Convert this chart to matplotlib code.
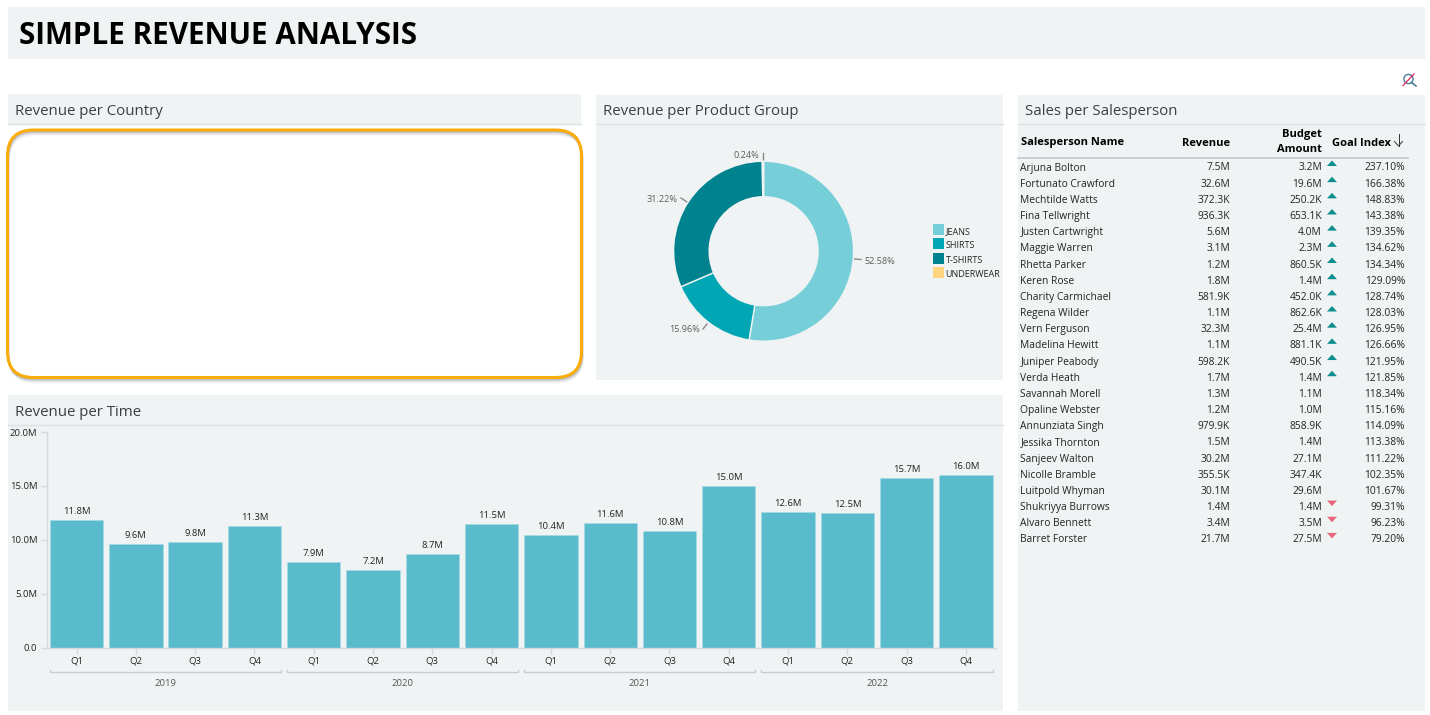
import matplotlib
matplotlib.use("Agg")
import matplotlib.pyplot as plt
import matplotlib.patches as mp

plt.rcParams['font.family'] = ['Open Sans', 'DejaVu Sans']

W, H = 1430, 715

# data
quarters = ['Q1', 'Q2', 'Q3', 'Q4'] * 4
years = ['2019', '2020', '2021', '2022']
revenue_time = [11.8, 9.6, 9.8, 11.3, 7.9, 7.2, 8.7, 11.5, 10.4, 11.6, 10.8, 15.0, 12.6, 12.5, 15.7, 16.0]
yticks = [0, 5, 10, 15, 20]
ylabels = ['0.0', '5.0M', '10.0M', '15.0M', '20.0M']

groups = ['JEANS', 'SHIRTS', 'T-SHIRTS', 'UNDERWEAR']
group_share = [52.58, 15.96, 31.22, 0.24]
group_colors = ['#76CFD8', '#00A6B4', '#00838F', '#FFD67F']

names = ['Arjuna Bolton', 'Fortunato Crawford', 'Mechtilde Watts', 'Fina Tellwright', 'Justen Cartwright',
         'Maggie Warren', 'Rhetta Parker', 'Keren Rose', 'Charity Carmichael', 'Regena Wilder', 'Vern Ferguson',
         'Madelina Hewitt', 'Juniper Peabody', 'Verda Heath', 'Savannah Morell', 'Opaline Webster',
         'Annunziata Singh', 'Jessika Thornton', 'Sanjeev Walton', 'Nicolle Bramble', 'Luitpold Whyman',
         'Shukriyya Burrows', 'Alvaro Bennett', 'Barret Forster']
revenue = ['7.5M', '32.6M', '372.3K', '936.3K', '5.6M', '3.1M', '1.2M', '1.8M', '581.9K', '1.1M', '32.3M', '1.1M',
           '598.2K', '1.7M', '1.3M', '1.2M', '979.9K', '1.5M', '30.2M', '355.5K', '30.1M', '1.4M', '3.4M', '21.7M']
budget = ['3.2M', '19.6M', '250.2K', '653.1K', '4.0M', '2.3M', '860.5K', '1.4M', '452.0K', '862.6K', '25.4M', '881.1K',
          '490.5K', '1.4M', '1.1M', '1.0M', '858.9K', '1.4M', '27.1M', '347.4K', '29.6M', '1.4M', '3.5M', '27.5M']
goal_index = [237.10, 166.38, 148.83, 143.38, 139.35, 134.62, 134.34, 129.09, 128.74, 128.03, 126.95, 126.66,
              121.95, 121.85, 118.34, 115.16, 114.09, 113.38, 111.22, 102.35, 101.67, 99.31, 96.23, 79.20]

PANEL = '#F0F3F4'
RULE = '#DDE1E3'
TITLE = '#3A3F42'
TXT = '#252423'


def px_axes(x0, y0, x1, y1):
    return fig.add_axes([x0 / W, 1 - y1 / H, (x1 - x0) / W, (y1 - y0) / H])


fig = plt.figure(figsize=(W / 100, H / 100), dpi=100, facecolor='white')

# background layer, in pixels
bg = fig.add_axes([0, 0, 1, 1])
bg.set_xlim(0, W)
bg.set_ylim(H, 0)
bg.axis('off')


def panel(x0, y0, x1, y1):
    bg.add_patch(mp.Rectangle((x0, y0), x1 - x0, y1 - y0, fc=PANEL, ec='none'))


panel(8, 7, 1425, 59)
panel(8, 94, 581, 124)
panel(596, 95, 1003, 380)
panel(8, 395, 1003, 711)
panel(1018, 95, 1425, 711)

bg.text(19, 36.5, 'SIMPLE REVENUE ANALYSIS', fontsize=21.3, fontweight='bold', color='black', va='center')

for x0, x1, y, t in [(8, 581, 124, 'Revenue per Country'), (596, 1003, 124, 'Revenue per Product Group'),
                     (8, 1003, 424.5, 'Revenue per Time'), (1018, 1425, 124, 'Sales per Salesperson')]:
    bg.plot([x0, x1], [y, y], color=RULE, lw=1)
    bg.text(x0 + 7, y - 12.5, t, fontsize=10.85, color=TITLE, va='center')

# empty map frame, soft shadow falls inside the top edge and outside the bottom one
box = dict(boxstyle='round,pad=0,rounding_size=26')
bg.add_patch(mp.FancyBboxPatch((7.5, 130), 574, 247.5, fc='white', ec='none', **box))
for off, alpha in [(5, 0.04), (4, 0.07), (3, 0.12), (2, 0.2), (1, 0.3)]:
    bg.add_patch(mp.FancyBboxPatch((7.5 + off * 0.3, 130 + off), 574, 247.5, fc='none', ec='#555555',
                                   lw=1.5, alpha=alpha, **box))
bg.add_patch(mp.FancyBboxPatch((7.5, 130), 574, 247.5, fc='none', ec='#F9AC0A', lw=2.2, **box))

# filter icon
bg.add_patch(mp.Circle((1408.5, 79), 4.6, fc='none', ec='#4A7F9A', lw=1))
bg.plot([1411.5, 1416], [82.5, 86], color='#4A7F9A', lw=1.2)
bg.plot([1403, 1414], [85.5, 74], color='#E0245E', lw=0.9)

# bars
ax = px_axes(46.9, 432, 995.6, 647.5)
ax.patch.set_alpha(0)
xs = list(range(len(revenue_time)))
ax.bar(xs, revenue_time, width=0.9, color='#5ABBCD', edgecolor='#A5DCE4', linewidth=0.4)
for x, v in zip(xs, revenue_time):
    ax.text(x, v + 0.37, '{:.1f}M'.format(v), ha='center', va='bottom', fontsize=6.8, color=TXT)
ax.set_xlim(-0.5, 15.5)
ax.set_ylim(0, 20)
ax.set_xticks(xs, quarters)
ax.set_yticks(yticks, ylabels)
ax.tick_params(axis='both', length=4, width=1, color='#D5D9DB', labelsize=6.8, labelcolor=TXT, pad=3)
ax.tick_params(axis='x', pad=2.2)
for s in ['top', 'right']:
    ax.spines[s].set_visible(False)
for s in ['left', 'bottom']:
    ax.spines[s].set_color('#D5D9DB')
    ax.spines[s].set_linewidth(1)

# year brackets under the quarters
tr = ax.get_xaxis_transform()
for i, year in enumerate(years):
    a, b = i * 4 - 0.45, i * 4 + 3.45
    ax.plot([a, a, b, b], [-0.103, -0.113, -0.113, -0.103], transform=tr, color='#C8CDCF', lw=1, clip_on=False)
    ax.text(i * 4 + 1.5, -0.167, year, transform=tr, ha='center', va='center', fontsize=6.8, color='#555555')

# donut
pie = px_axes(763.6 - 90, 251.2 - 90, 763.6 + 90, 251.2 + 90)
pie.pie(group_share, colors=group_colors, startangle=90, counterclock=False, radius=1,
        wedgeprops=dict(width=0.395, edgecolor=PANEL, linewidth=1))
pie.set_xlim(-1, 1)
pie.set_ylim(-1, 1)

for t, xt, yt, ha, line in [('52.58%', 864, 261, 'left', [(854, 259), (861, 259.5)]),
                            ('15.96%', 700.5, 330, 'right', [(703, 329), (707, 324)]),
                            ('31.22%', 678, 199, 'right', [(681, 198), (687, 202)]),
                            ('0.24%', 759.5, 155.5, 'right', [(762.8, 153), (762.8, 160)])]:
    bg.text(xt, yt, t, ha=ha, va='center', fontsize=6.6, color='#605E5C')
    bg.plot(*zip(*line), color='#8A8886', lw=1)

for i, (g, c) in enumerate(zip(groups, group_colors)):
    y = 229.5 + i * 14.4
    bg.add_patch(mp.Rectangle((933, y - 5.5), 10.5, 11, fc=c, ec='none'))
    bg.text(945.5, y + 2, g, fontsize=6.5, color=TXT, va='center')

# table
HEAD = 'black'
bg.text(1021, 143, 'Salesperson Name', fontsize=8, fontweight='bold', color=HEAD, va='center')
bg.text(1230, 143, 'Revenue', fontsize=8, fontweight='bold', color=HEAD, va='center', ha='right')
bg.text(1322, 134, 'Budget', fontsize=8, fontweight='bold', color=HEAD, va='center', ha='right')
bg.text(1322, 149, 'Amount', fontsize=8, fontweight='bold', color=HEAD, va='center', ha='right')
bg.text(1332, 143, 'Goal Index', fontsize=8, fontweight='bold', color=HEAD, va='center')
bg.plot([1398.5, 1398.5], [134, 146], color='#333333', lw=0.7)
bg.plot([1394.5, 1398.5, 1402.5], [141.5, 146, 141.5], color='#333333', lw=0.7)
bg.plot([1018, 1408], [157.5, 157.5], color='#C4C8CA', lw=1.2)

for i, name in enumerate(names):
    y = 168 + i * 16.17
    bg.text(1020.5, y, name, fontsize=7.4, color=TXT, va='center')
    bg.text(1230, y, revenue[i], fontsize=7.4, color=TXT, va='center', ha='right')
    bg.text(1322, y, budget[i], fontsize=7.4, color=TXT, va='center', ha='right')
    bg.text(1405, y, '{:.2f}%'.format(goal_index[i]), fontsize=7.4, color=TXT, va='center', ha='right')
    if goal_index[i] >= 120:
        bg.add_patch(mp.Polygon([(1327, y - 2), (1337, y - 2), (1332, y - 7.5)], fc='#0E8E8E', ec='none'))
    elif goal_index[i] < 100:
        bg.add_patch(mp.Polygon([(1327, y - 7), (1337, y - 7), (1332, y - 1.5)], fc='#E8667A', ec='none'))

fig.savefig('out.png', dpi=100)
